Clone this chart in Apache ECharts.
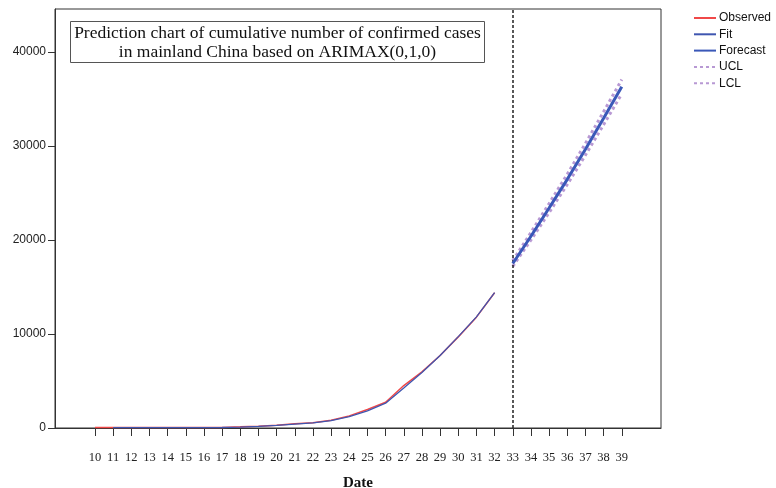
<!DOCTYPE html>
<html>
<head>
<meta charset="utf-8">
<script src="https://cdn.jsdelivr.net/npm/echarts@6/dist/echarts.min.js"></script>
<style>html,body{margin:0;padding:0;background:#fff;overflow:hidden}#c{width:776px;height:488px}</style>
</head>
<body>
<div id="c"></div>
<script>
const xTicks = [10,11,12,13,14,15,16,17,18,19,20,21,22,23,24,25,26,27,28,29,30,31,32,33,34,35,36,37,38,39];
const yTicks = [0,10000,20000,30000,40000];
const obsDates = [10,11,12,13,14,15,16,17,18,19,20,21,22,23,24,25,26,27,28,29,30,31,32];
const observed = [41,41,41,41,41,41,45,62,121,198,291,440,571,830,1287,1975,2744,4515,5974,7711,9692,11791,14380];
const fitDates = [11,12,13,14,15,16,17,18,19,20,21,22,23,24,25,26,27,28,29,30,31,32];
const fit = [42,42,42,42,42,43,55,100,175,270,410,540,790,1200,1830,2640,4250,5900,7720,9720,11820,14400];
const fcDates = [33,34,35,36,37,38,39];
const forecast = [17500,20400,23400,26450,29650,32950,36300];
const ucl = [17800,20800,23880,27000,30270,33640,37060];
const lcl = [17200,20000,22920,25900,29030,32260,35540];
const splitDate = 33;

function pairs(xs, ys){ return xs.map((x,i)=>[x, ys[i]]); }

const chart = echarts.init(document.getElementById('c'));
const serif = 'Liberation Serif';
const sans = 'Liberation Sans';
chart.setOption({
  animation: false,
  grid: {left: 55, top: 9, width: 606, height: 419, containLabel: false, outerBoundsMode: 'none',
         show: true, borderColor: '#333', borderWidth: 1},
  legend: {
    orient: 'vertical', left: 693, top: 12, padding: 0, itemWidth: 22, itemHeight: 10, itemGap: 4.3,
    itemStyle: {opacity: 0},
    textStyle: {fontFamily: sans, fontSize: 12, color: '#111', padding: [0,0,0,-2]},
    data: ['Observed','Fit','Forecast','UCL','LCL']
  },
  xAxis: {
    type: 'value', min: 7.8, max: 41.16,
    name: 'Date', nameLocation: 'middle', nameGap: 48,
    nameTextStyle: {fontFamily: serif, fontSize: 15, fontWeight: 'bold', color: '#111'},
    axisLine: {lineStyle: {color: '#333'}},
    axisTick: {customValues: xTicks, length: 8, lineStyle: {color: '#333'}},
    axisLabel: {customValues: xTicks, fontFamily: serif, fontSize: 12.5, color: '#222', margin: 23},
    splitLine: {show: false}
  },
  yAxis: {
    type: 'value', min: 0, max: 44570,
    axisLine: {show: true, lineStyle: {color: '#333'}},
    axisTick: {show: true, customValues: yTicks, length: 7, lineStyle: {color: '#333'}},
    axisLabel: {customValues: yTicks, formatter: v => String(v), fontFamily: sans, fontSize: 12, color: '#222', margin: 9},
    splitLine: {show: false}
  },
  graphic: [
    {type: 'group', left: 70, top: 21, z: 100, children: [
      {type: 'rect', shape: {x: 0, y: 0, width: 414, height: 41},
       style: {fill: '#fff', stroke: '#555', lineWidth: 1}},
      {type: 'text', x: 207, y: 2,
       style: {text: 'Prediction chart of cumulative number of confirmed cases\nin mainland China based on ARIMAX(0,1,0)',
         font: '17.5px "Liberation Serif"', fill: '#111', align: 'center', verticalAlign: 'top', lineHeight: 19}}
    ]}
  ],
  series: [
    {name: 'Observed', type: 'line', data: pairs(obsDates, observed), symbol: 'none',
     lineStyle: {color: '#f04848', width: 1.5}, itemStyle: {color: '#f04848'}, z: 3,
     markLine: {silent: true, symbol: 'none', label: {show: false},
       lineStyle: {color: '#222', type: [3,2], width: 1.5},
       data: [{xAxis: splitDate}]}},
    {name: 'Fit', type: 'line', data: pairs(fitDates, fit), symbol: 'none',
     lineStyle: {color: '#3f56b0', width: 1.3}, itemStyle: {color: '#3f56b0'}, z: 4},
    {name: 'Forecast', type: 'line', data: pairs(fcDates, forecast), symbol: 'none',
     lineStyle: {color: '#3a58b8', width: 3}, itemStyle: {color: '#3a58b8'}, z: 5},
    {name: 'UCL', type: 'line', data: pairs(fcDates, ucl), symbol: 'none',
     lineStyle: {color: '#b899d4', width: 3, type: [3,3]}, itemStyle: {color: '#b899d4'}, z: 2},
    {name: 'LCL', type: 'line', data: pairs(fcDates, lcl), symbol: 'none',
     lineStyle: {color: '#b899d4', width: 3, type: [3,3]}, itemStyle: {color: '#b899d4'}, z: 2}
  ]
});
</script>
</body>
</html>
